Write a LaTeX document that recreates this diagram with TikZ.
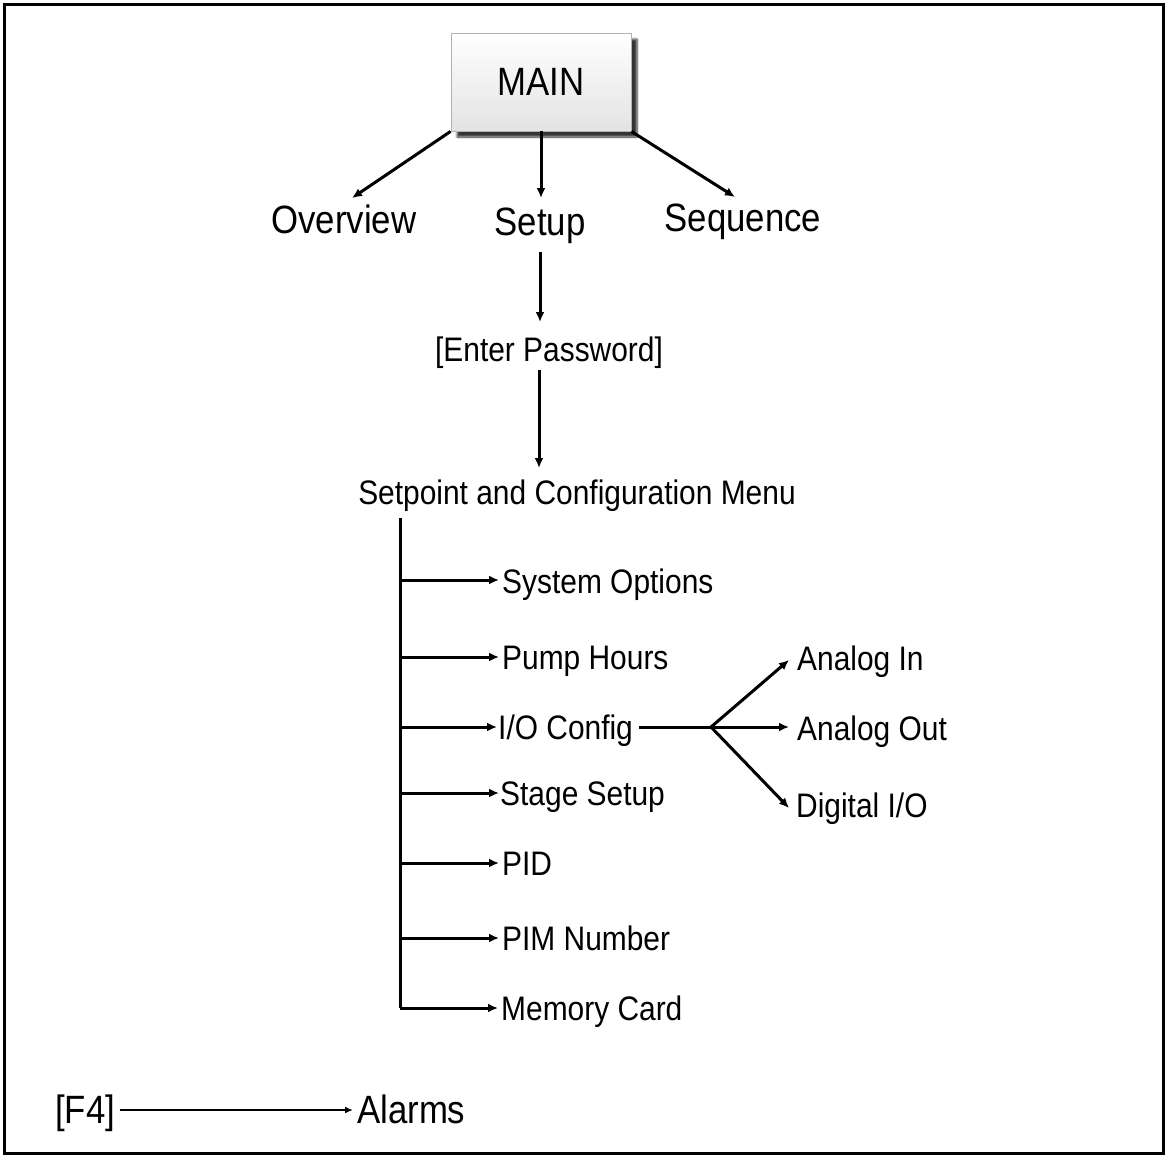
\documentclass[tikz,border=0pt]{standalone}
\usepackage{fontspec}
\setmainfont{Liberation Sans}[FakeStretch=0.88]
\usetikzlibrary{arrows.meta,shadows.blur,calc}
\begin{document}
\begin{tikzpicture}[x=1pt,y=-1pt,
  conn/.style={line width=3pt,-{Latex[length=10pt,width=9pt]}},
  plain/.style={line width=3pt},
  lbl/.style={inner sep=0pt,font=\fontsize{34}{40}\selectfont},
  big/.style={inner sep=0pt,font=\fontsize{39.5}{46}\selectfont},
  mainbox/.style={draw=gray!60,line width=0.8pt,minimum width=180pt,minimum height=98pt,
    top color=white,bottom color=gray!22,
    blur shadow={shadow xshift=6pt,shadow yshift=-6pt,shadow blur steps=6,shadow opacity=80},
    font=\fontsize{39.5}{46}\selectfont}]
\useasboundingbox (0,0) rectangle (1167,1157);
\draw[line width=3pt] (4,4) rectangle (1163,1153);

% top
\node[mainbox] (main) at (541,82) {MAIN};
\node[big,anchor=base] (ov) at (344,233) {Overview};
\node[big,anchor=base] (setup) at (540,235) {Setup};
\node[big,anchor=base] (seq) at (743,231) {Sequence};
\coordinate (ovtip) at (352,198);
\coordinate (setuptip) at (541,198);
\coordinate (seqtip) at (735,197);
\draw[conn] (main.south west) -- (ovtip);
\draw[conn] (main.south) -- (setuptip);
\draw[conn] (main.south east) -- (seqtip);

\node[lbl,anchor=base] (pw) at (549,361) {[Enter Password]};
\node[lbl,anchor=base] (menu) at (577,504) {Setpoint and Configuration Menu};
\coordinate (pwtop) at (540,322);
\coordinate (menutop) at (539,468);
\draw[conn] (setup.south -| pwtop) ++(0,9) -- (pwtop);
\draw[conn] (pw.south -| menutop) ++(0,2) -- (menutop);

% trunk
\coordinate (trtop) at (400,518);
\coordinate (b1) at (400,580);
\coordinate (b2) at (400,657);
\coordinate (b3) at (400,727);
\coordinate (b4) at (400,793);
\coordinate (b5) at (400,863);
\coordinate (b6) at (400,938);
\coordinate (b7) at (400,1008);

\node[lbl,anchor=base west] (so) at (502,593) {System Options};
\node[lbl,anchor=base west] (ph) at (502,669) {Pump Hours};
\node[lbl,anchor=base west] (io) at (498,739) {I/O Config};
\node[lbl,anchor=base west] (ss) at (500,805) {Stage Setup};
\node[lbl,anchor=base west] (pid) at (502,875) {PID};
\node[lbl,anchor=base west] (pim) at (502,950) {PIM Number};
\node[lbl,anchor=base west] (mc) at (501,1020) {Memory Card};

\draw[plain] (trtop) -- (b7);
\draw[conn] (b1) -- ([xshift=-3pt]b1 -| so.west);
\draw[conn] (b2) -- ([xshift=-3pt]b2 -| ph.west);
\draw[conn] (b3) -- ([xshift=-1pt]b3 -| io.west);
\draw[conn] (b4) -- ([xshift=-1pt]b4 -| ss.west);
\draw[conn] (b5) -- ([xshift=-3pt]b5 -| pid.west);
\draw[conn] (b6) -- ([xshift=-3pt]b6 -| pim.west);
\draw[conn] (b7) -- ([xshift=-3pt]b7 -| mc.west);

% I/O branch
\coordinate (split) at (711,727);
\node[lbl,anchor=base west] (ain) at (797,670) {Analog In};
\node[lbl,anchor=base west] (aout) at (797,740) {Analog Out};
\node[lbl,anchor=base west] (dio) at (796,817) {Digital I/O};
\coordinate (aintip) at (789,660);
\coordinate (aouttip) at (789,727);
\coordinate (diotip) at (789,808);
\draw[plain] ([xshift=6pt]io.east |- split) -- (split);
\draw[conn] (split) -- (aintip);
\draw[conn] (split) -- (aouttip);
\draw[conn] (split) -- (diotip);

% F4
\node[big,anchor=base west] (f4) at (55,1123) {[F4]};
\node[big,anchor=base west] (al) at (357,1123) {Alarms};
\draw[line width=1.8pt,-{Latex[length=8pt,width=7pt]}] ([xshift=5pt]f4.east |- 0,1110) -- ([xshift=-4pt]al.west |- 0,1110);
\end{tikzpicture}
\end{document}
